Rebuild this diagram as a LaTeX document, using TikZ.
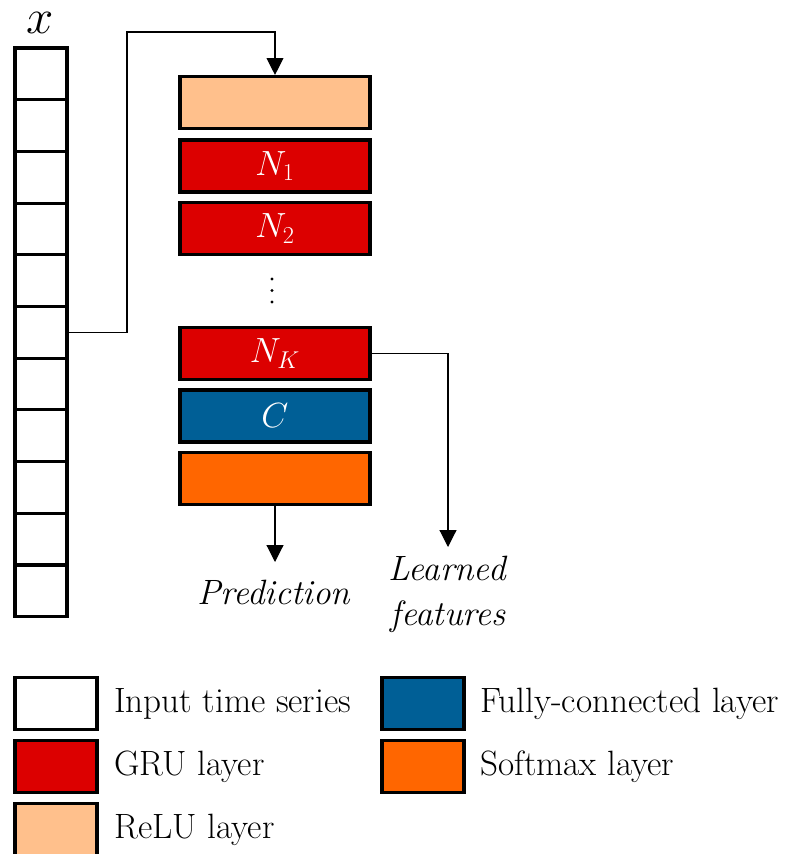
\documentclass[tikz,border=0pt]{standalone}
\usepackage{tikz}
\usetikzlibrary{positioning, arrows.meta}
\usepackage{amsmath}
\usepackage{xcolor}

\definecolor{relucol}{RGB}{255,192,140}
\definecolor{grucol}{RGB}{220,0,0}
\definecolor{fccol}{RGB}{0,95,150}
\definecolor{softcol}{RGB}{255,102,0}

\begin{document}
\begin{tikzpicture}[x=0.025cm, y=-0.025cm,
  font=\fontsize{25}{32}\selectfont,
  cell/.style={rectangle, draw=black, line width=2.2pt, fill=white, minimum width=1.3cm, minimum height=1.29cm},
  layer/.style={rectangle, draw=black, line width=2.2pt, minimum width=4.75cm, minimum height=1.3cm, text=white, font=\fontsize{26}{30}\selectfont},
  legbox/.style={rectangle, draw=black, line width=2.2pt, minimum width=2.05cm, minimum height=1.32cm},
  legtext/.style={anchor=west, inner sep=0pt},
  conn/.style={line width=0.8pt, -{Triangle[width=12pt,length=12pt]}}]
\useasboundingbox (0,0) rectangle (796,854);

% Input time series
\node[scale=1.4, inner sep=0pt] (xlab) at (40,23) {$x$};
\foreach \i in {0,...,10}
  \node[cell] (x\i) at (41,{73.85+51.7*\i}) {};

% Layer stack
\node[layer, fill=relucol] (relu) at (275,102.5) {};
\node[layer, fill=grucol] (n1) at (275,166) {$N_1$};
\node[layer, fill=grucol] (n2) at (275,228.5) {$N_2$};
\foreach \d in {0,1,2}
  \fill (272,{279+11.5*\d}) circle (1.7);
\node[layer, fill=grucol] (nk) at (275,353.5) {$N_K$};
\node[layer, fill=fccol] (fc) at (275,416) {$C$};
\node[layer, fill=softcol] (soft) at (275,478.5) {};

% Connectors
\coordinate (bend) at (127,32);
\draw[conn] (x5.east) -| (bend) -| (relu.north);

\coordinate (predtip) at (275,562);
\draw[conn] (soft.south) -- (predtip);
\node (predlab) at (274,592) {\textit{Prediction}};

\coordinate (feattip) at (448,547);
\draw[conn] (nk.east) -| (feattip);
\node[align=center] (featlab) at (448,594) {\textit{Learned}\\\textit{features}};

% Legend
\node[legbox, fill=white] (leg1) at (56,703.5) {};
\node[legtext] (leg1t) at (114,703.5) {Input time series};
\node[legbox, fill=grucol] (leg2) at (56,766.5) {};
\node[legtext] (leg2t) at (114,766.5) {GRU layer};
\node[legbox, fill=relucol] (leg3) at (56,829.5) {};
\node[legtext] (leg3t) at (114,829.5) {ReLU layer};
\node[legbox, fill=fccol] (leg4) at (423,703.5) {};
\node[legtext] (leg4t) at (480,703.5) {Fully-connected layer};
\node[legbox, fill=softcol] (leg5) at (423,766.5) {};
\node[legtext] (leg5t) at (480,766.5) {Softmax layer};

\end{tikzpicture}
\end{document}
